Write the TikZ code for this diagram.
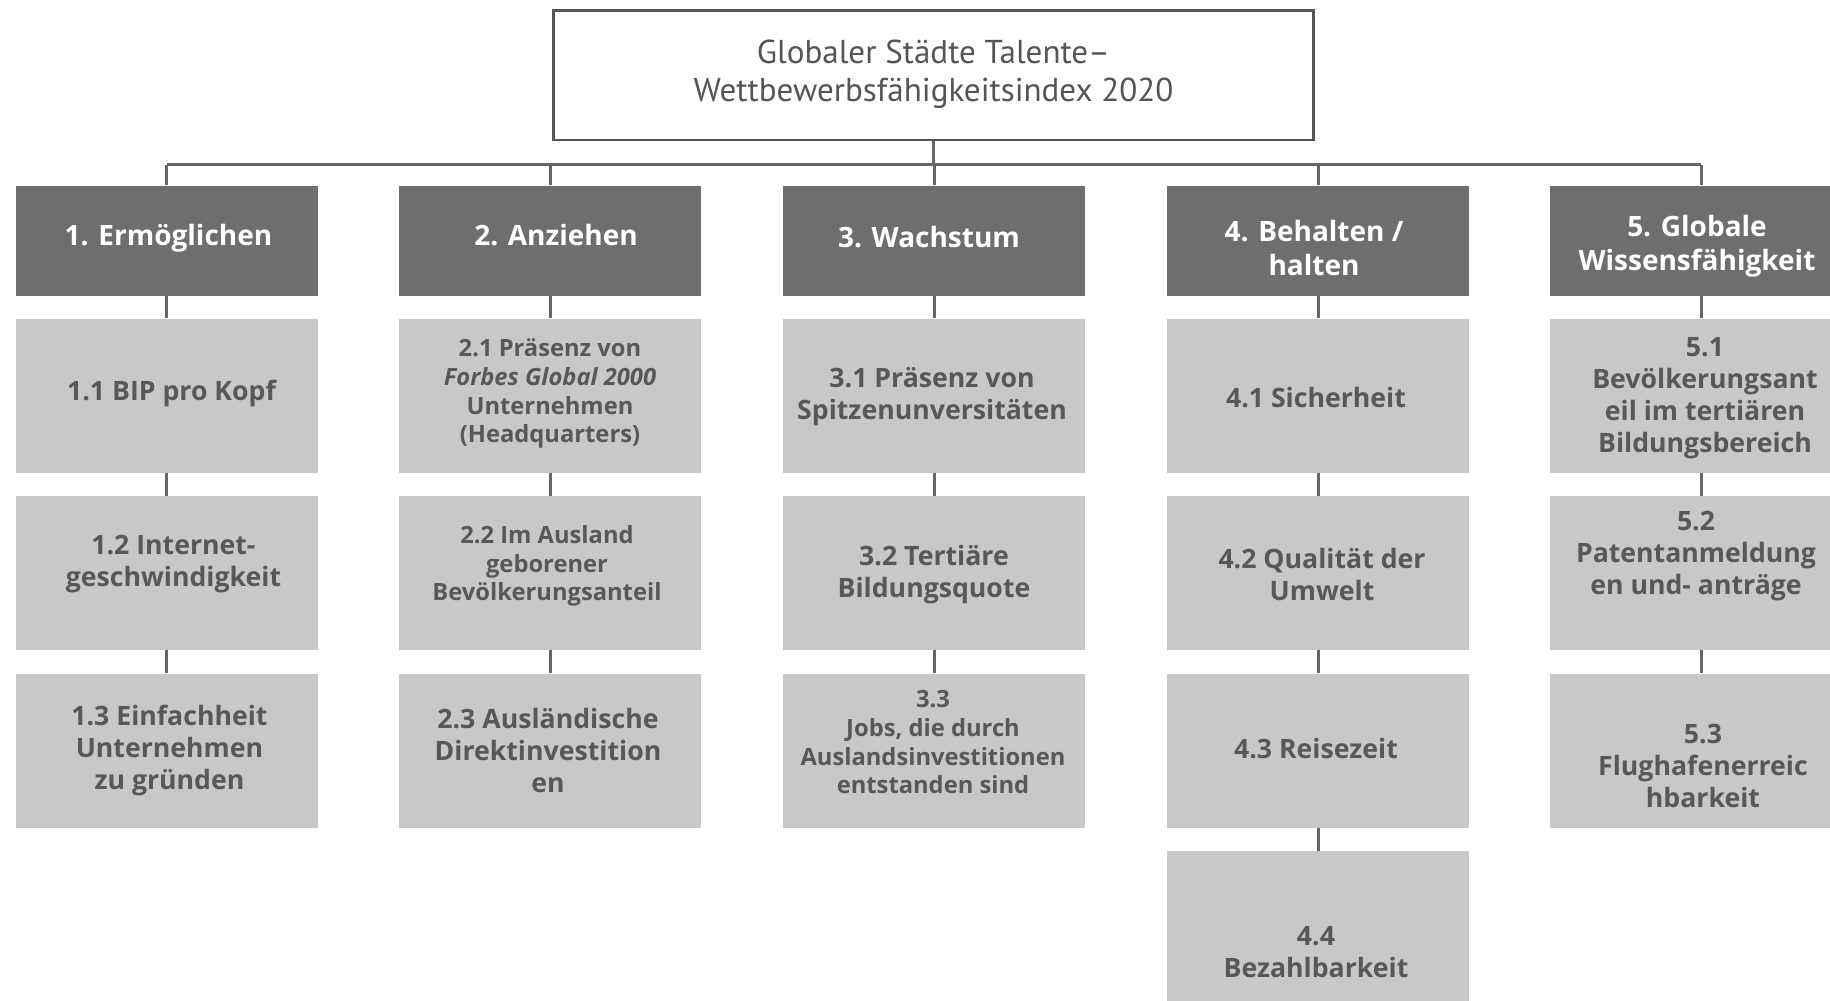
\documentclass[tikz,border=0pt]{standalone}
\usepackage{fontspec}
\newfontfamily\osans{Open Sans}
\newfontfamily\ptsans{PT Sans}
\usetikzlibrary{calc}
\definecolor{hdrc}{HTML}{6E6E6E}
\definecolor{subc}{HTML}{C8C8C8}
\definecolor{txtc}{HTML}{585858}
\definecolor{lnc}{HTML}{666666}
\definecolor{ttlc}{HTML}{555555}
\begin{document}
\begin{tikzpicture}[x=0.75pt,y=-0.75pt,
  hdrbox/.style={rectangle, fill=hdrc, minimum width=226.5pt, minimum height=82.5pt, inner sep=0pt},
  subbox/.style={rectangle, fill=subc, minimum width=226.5pt, minimum height=115.5pt, inner sep=0pt},
  hdrtxt/.style={align=center, text=white, font=\osans\bfseries\fontsize{21}{25.5}\selectfont, inner sep=0pt},
  subtxt/.style={align=center, text=txtc, font=\osans\bfseries\fontsize{20}{24}\selectfont, inner sep=0pt},
  smalltxt/.style={align=center, text=txtc, font=\osans\bfseries\fontsize{17.8}{21.5}\selectfont, inner sep=0pt},
  titlebox/.style={rectangle, draw=ttlc, line width=2.2pt, fill=white, minimum width=570pt, minimum height=97pt, inner sep=0pt},
  titletxt/.style={align=center, text=ttlc, font=\ptsans\fontsize{24.8}{28}\selectfont, inner sep=0pt},
  conn/.style={draw=lnc, line width=2.25pt}]
\useasboundingbox (0,0) rectangle (1830,1000);
\fill[white] (0,0) rectangle (1830,1000);
\clip (0,0) rectangle (1830,1000);

% title
\node[titlebox] (title) at (933.5,75.3) {};
\node[titletxt] (ttext) at ($(title)+(0,-1)$) {Globaler Städte Talente–\\Wettbewerbsfähigkeitsindex 2020};

% headers
\node[hdrbox] (h1) at (166.5,240.5) {};
\node[hdrbox] (h2) at (550,240.5) {};
\node[hdrbox] (h3) at (934,240.5) {};
\node[hdrbox] (h4) at (1318,240.5) {};
\node[hdrbox] (h5) at (1701,240.5) {};

% sub boxes
\foreach \c/\x in {1/166.5,2/550,3/934,4/1318,5/1701}{
  \node[subbox] (b\c1) at (\x,395.6) {};
  \node[subbox] (b\c2) at (\x,573) {};
  \node[subbox] (b\c3) at (\x,750.5) {};
}
\node[subbox] (b44) at (1318,928) {};

% connectors
\coordinate (bus) at (934,164.6);
\draw[conn] (title.south) -- (title.south |- bus);
\draw[conn] (h1.north |- bus) -- (h5.north |- bus);
\foreach \c in {1,...,5}{
  \draw[conn] (h\c.north |- bus) -- (h\c.north);
  \draw[conn] (h\c.south) -- (b\c1.north);
  \draw[conn] (b\c1.south) -- (b\c2.north);
  \draw[conn] (b\c2.south) -- (b\c3.north);
}
\draw[conn] (b43.south) -- (b44.north);

% header texts
\node[hdrtxt] (th1) at ($(h1)+(2,-2)$) {1. Ermöglichen};
\node[hdrtxt] (th2) at ($(h2)+(6,-5)$) {2. Anziehen};
\node[hdrtxt] (th3) at ($(h3)+(-5,-3)$) {3. Wachstum};
\node[hdrtxt] (th4) at ($(h4)+(-4,7)$) {4. Behalten /\\halten};
\node[hdrtxt] (th5) at ($(h5)+(-4,6)$) {5. Globale\\Wissensfähigkeit};

% sub texts
\node[subtxt] (t11) at ($(b11)+(5,-2)$) {1.1 BIP pro Kopf};
\node[subtxt] (t12) at ($(b12)+(7,-9)$) {1.2 Internet-\\geschwindigkeit};
\node[subtxt] (t13) at ($(b13)+(3,0)$) {1.3 Einfachheit\\Unternehmen\\zu gründen};

\node[smalltxt] (t21) at ($(b21)+(0,-2)$) {2.1 Präsenz von\\{\itshape Forbes Global 2000}\\Unternehmen\\(Headquarters)};
\node[smalltxt] (t22) at ($(b22)+(-3,-7)$) {2.2 Im Ausland\\geborener\\Bevölkerungsanteil};
\node[subtxt] (t23) at ($(b23)+(-2,0)$) {2.3 Ausländische\\Direktinvestition\\en};

\node[subtxt] (t31) at ($(b31)+(-2,1)$) {3.1 Präsenz von\\Spitzenunversitäten};
\node[subtxt] (t32) at ($(b32)+(0,2)$) {3.2 Tertiäre\\Bildungsquote};
\node[smalltxt] (t33) at ($(b33)+(-1,-8)$) {3.3\\Jobs, die durch\\Auslandsinvestitionen\\entstanden sind};

\node[subtxt] (t41) at ($(b41)+(-2,2)$) {4.1 Sicherheit};
\node[subtxt] (t42) at ($(b42)+(4,1)$) {4.2 Qualität der\\Umwelt};
\node[subtxt] (t43) at ($(b43)+(-2,-2)$) {4.3 Reisezeit};
\node[subtxt] (t44) at ($(b44)+(-2,24)$) {4.4\\Bezahlbarkeit};

\node[subtxt] (t51) at ($(b51)+(4,3)$) {5.1\\Bevölkerungsant\\eil im tertiären\\Bildungsbereich};
\node[subtxt] (t52) at ($(b52)+(-5,-17)$) {5.2\\Patentanmeldung\\en und- anträge};
\node[subtxt] (t53) at ($(b53)+(2,15)$) {5.3\\Flughafenerreic\\hbarkeit};
\end{tikzpicture}
\end{document}
